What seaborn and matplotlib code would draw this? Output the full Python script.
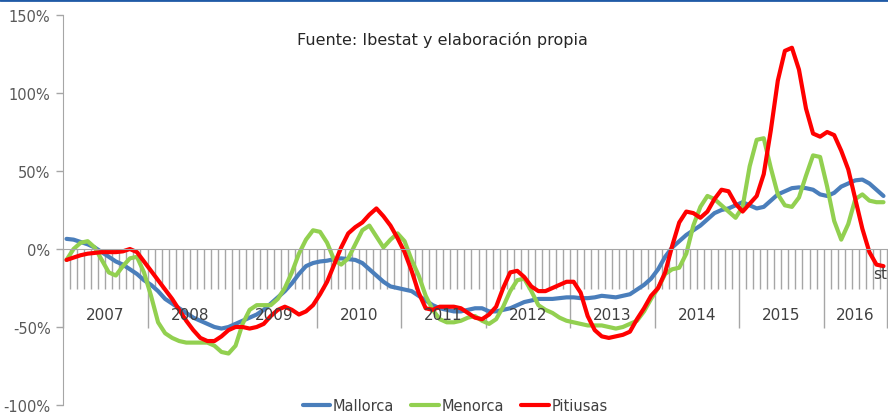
import numpy as np
import pandas as pd
import matplotlib.pyplot as plt
import seaborn as sns

# Monthly year-on-year change (%), Jan 2007 - Sep 2016
years = ['2007', '2008', '2009', '2010', '2011', '2012', '2013', '2014', '2015', '2016']
months_in_year = [12, 12, 12, 12, 12, 12, 12, 12, 12, 9]
series_names = ['Mallorca', 'Menorca', 'Pitiusas']

mallorca = [
    6.5, 6, 4.5, 3, 1, -2, -5, -8, -10, -13, -16, -20,
    -23, -27, -32, -35, -38, -41, -44, -46, -48, -50, -51, -50,
    -48, -46, -44, -42, -39, -35, -31, -27, -22, -16, -11, -9,
    -8, -7.5, -6.5, -6, -6.5, -7, -9, -13, -17, -21, -24, -25,
    -26, -27, -30, -33, -36, -38, -39, -40, -40, -39, -38, -38,
    -40, -40, -39, -38, -36, -34, -33, -32, -32, -32, -31.5, -31,
    -31, -31.5, -31.5, -31, -30, -30.5, -31, -30, -29, -26, -23, -19,
    -13, -5, 1, 5, 9, 12, 15, 19, 23, 25, 26, 28,
    30, 28, 26, 27, 31, 35, 37, 39, 39.5, 39, 38, 35,
    34, 36, 40, 42, 44, 44.5, 42, 38, 34,
]
menorca = [
    -7, 0, 4, 5, 1, -7, -15, -17, -11, -6, -5, -15,
    -30, -47, -54, -57, -59, -60, -60, -60, -60, -62, -66, -67,
    -62, -48, -39, -36, -36, -36, -32, -25, -15, -3, 6, 12,
    11, 4, -7, -10, -6, 3, 12, 15, 8, 1, 6, 10,
    5, -7, -17, -30, -39, -45, -47, -47, -46, -44, -43, -46,
    -48, -45, -37, -27, -20, -19, -27, -36, -39, -41, -44, -46,
    -47, -48, -49, -49, -49, -50, -51, -50, -48, -46, -40, -32,
    -25, -16, -13, -12, -3, 15, 27, 34, 32, 28, 24, 20,
    27, 53, 70, 71, 52, 35, 28, 27, 33, 47, 60, 59,
    40, 18, 6, 16, 32, 35, 31, 30, 30,
]
pitiusas = [
    -7, -5.5, -4, -3, -2.5, -2, -2, -2, -1.5, 0, -2, -8,
    -14, -20, -26, -32, -39, -46, -52, -57, -59, -59, -56, -52,
    -50, -50, -51, -50, -48, -43, -39, -37, -39, -42, -40, -36,
    -29, -21, -10, 1, 10, 14, 17, 22, 26, 21, 15, 7,
    -2, -14, -28, -38, -39, -37, -37, -37, -38, -41, -44, -45,
    -42, -37, -25, -15, -14, -18, -24, -27, -27, -25, -23, -21,
    -21, -28, -43, -52, -56, -57, -56, -55, -53, -45, -38, -30,
    -25, -15, 2, 17, 24, 23, 20, 24, 32, 38, 37, 29,
    24, 29, 34, 48, 76, 108, 127, 129, 115, 90, 74, 72,
    75, 73, 63, 51, 32, 13, -2, -10, -11,
]

n = len(mallorca)
df = pd.DataFrame({
    'mes': np.tile(np.arange(n), 3),
    'valor': mallorca + menorca + pitiusas,
    'isla': np.repeat(series_names, n),
})

sns.set_style("white")
plt.rcParams['font.family'] = ['DejaVu Sans']
plt.rcParams['lines.solid_joinstyle'] = 'round'
plt.rcParams['lines.solid_capstyle'] = 'round'

palette = {'Mallorca': '#4a7ebb', 'Menorca': '#92d050', 'Pitiusas': '#ff0000'}
grey = '#a6a6a6'
text_col = '#404040'

fig = plt.figure(figsize=(8.88, 4.14), dpi=100)
ax = fig.add_axes([63 / 888, 1 - 406 / 414, 824 / 888, 390 / 414])

sns.lineplot(data=df, x='mes', y='valor', hue='isla', palette=palette,
             linewidth=3, ax=ax, legend=True)

ax.set_xlim(-0.5, n - 0.5)
ax.set_ylim(-100, 150)
ax.set_xlabel('')
ax.set_ylabel('')

# y axis
ax.set_yticks([-100, -50, 0, 50, 100, 150])
ax.set_yticklabels([f"{v}%" for v in [-100, -50, 0, 50, 100, 150]],
                   fontsize=10.5, color='#595959')
ax.tick_params(axis='y', length=5, width=1, color=grey, direction='out', pad=4, left=True)

# category axis sitting on 0%
for s in ['top', 'right']:
    ax.spines[s].set_visible(False)
ax.spines['left'].set_color(grey)
ax.spines['bottom'].set_color(grey)
ax.spines['bottom'].set_position(('data', 0))

bounds = np.arange(n + 1) - 0.5
year_bounds = np.concatenate([[0], np.cumsum(months_in_year)]) - 0.5
ax.set_xticks(year_bounds)
ax.set_xticklabels([])
ax.set_xticks(bounds, minor=True)
ax.tick_params(axis='x', which='major', length=57, width=1, color=grey, direction='out', bottom=True)
ax.tick_params(axis='x', which='minor', length=29, width=1, color=grey, direction='out', bottom=True)

for i, y in enumerate(years):
    c = (year_bounds[i] + year_bounds[i + 1]) / 2
    ax.text(c, -42, y, ha='center', va='center', fontsize=11, color=text_col)
ax.text(114.6, -16, 'st', ha='left', va='center', fontsize=11, color=text_col, clip_on=False)

# legend at the bottom
handles, labels = ax.get_legend_handles_labels()
ax.legend(handles, labels, loc='center', bbox_to_anchor=(455 / 888, 7 / 414),
          bbox_transform=fig.transFigure, ncol=3, frameon=False, fontsize=10.5,
          handlelength=1.9, columnspacing=1.2, handletextpad=0.15, labelcolor=text_col)

fig.text(442 / 888, 1 - 40 / 414, 'Fuente: Ibestat y elaboración propia',
         ha='center', va='center', fontsize=11.5, color='#262626')

# thin blue rule along the top edge
fig.add_artist(plt.Line2D([0, 1], [0.998, 0.998], transform=fig.transFigure,
                          color='#1f5aa6', linewidth=2))

fig.savefig('out.png', dpi=100)
